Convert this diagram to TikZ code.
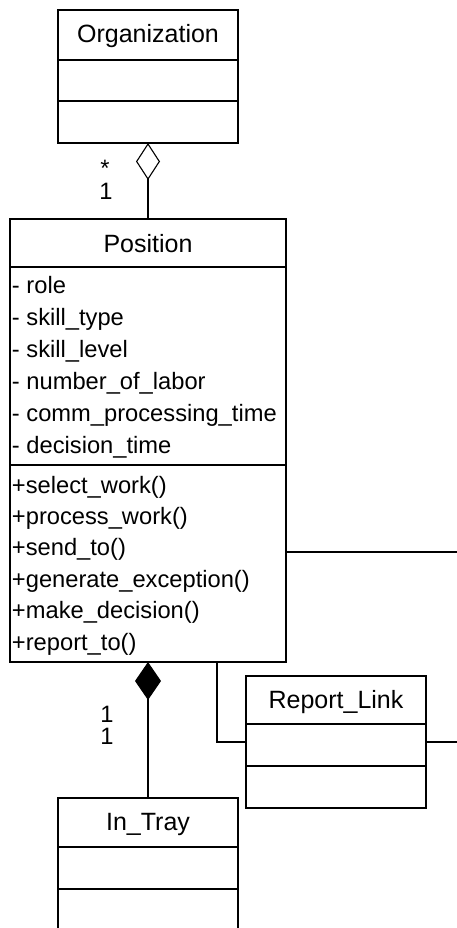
\documentclass[tikz,border=0pt]{standalone}
\usepackage{fontspec}
\setmainfont{Liberation Sans}
\usetikzlibrary{arrows.meta}
\begin{document}
\begin{tikzpicture}[x=1pt,y=-1pt,
  line width=1.2pt,
  every node/.style={inner sep=0pt,outer sep=0pt,font=\fontsize{23.7}{28}\selectfont},
  classbox/.style={draw,rectangle,anchor=north west,line width=1.3pt},
  title/.style={anchor=base,font=\fontsize{25}{29}\selectfont},
  member/.style={anchor=base west},
  mult/.style={anchor=base},
  link/.style={line width=1.1pt}]
\clip (0,0) rectangle (457,928);

% class boxes
\node[classbox,minimum width=180pt,minimum height=133pt] (org) at (58,10) {};
\node[classbox,minimum width=276pt,minimum height=443pt] (pos) at (10,219) {};
\node[classbox,minimum width=180pt,minimum height=132pt] (rl) at (246,676) {};
\node[classbox,minimum width=180pt,minimum height=160pt] (tray) at (58,798) {};

% compartment dividers
\draw[line width=1.3pt] (org.west |- 0,60) -- (org.east |- 0,60);
\draw[line width=1.3pt] (org.west |- 0,101) -- (org.east |- 0,101);
\draw[line width=1.3pt] (pos.west |- 0,267) -- (pos.east |- 0,267);
\draw[line width=1.3pt] (pos.west |- 0,465) -- (pos.east |- 0,465);
\draw[line width=1.3pt] (rl.west |- 0,724) -- (rl.east |- 0,724);
\draw[line width=1.3pt] (rl.west |- 0,766) -- (rl.east |- 0,766);
\draw[line width=1.3pt] (tray.west |- 0,847) -- (tray.east |- 0,847);
\draw[line width=1.3pt] (tray.west |- 0,889) -- (tray.east |- 0,889);

% class names
\node[title] (orgname) at (148,43) {Organization};
\node[title] (posname) at (148,252) {Position};
\node[title] (rlname) at (336,708) {Report\_Link};
\node[title] (trayname) at (148,830) {In\_Tray};

% attributes
\node[member] (a1) at (12,293) {- role};
\node[member] (a2) at (12,325) {- skill\_type};
\node[member] (a3) at (12,357) {- skill\_level};
\node[member] (a4) at (12,389) {- number\_of\_labor};
\node[member] (a5) at (12,421) {- comm\_processing\_time};
\node[member] (a6) at (12,453) {- decision\_time};

% operations
\node[member] (m1) at (12,493) {+select\_work()};
\node[member] (m2) at (12,524.4) {+process\_work()};
\node[member] (m3) at (12,555.8) {+send\_to()};
\node[member] (m4) at (12,587.2) {+generate\_exception()};
\node[member] (m5) at (12,618.6) {+make\_decision()};
\node[member] (m6) at (12,650) {+report\_to()};

% aggregation Organization <>- Position
\draw[link,{Diamond[open,length=37pt,width=24pt]}-] (org.south) -- (pos.north);
\node[mult] (mstar) at (105,177) {*};
\node[mult] (mone) at (106,200) {1};

% composition Position <#>- In_Tray
\draw[link,{Diamond[length=38pt,width=26pt]}-] (pos.south) -- (tray.north);
\node[mult] (c1) at (107,722) {1};
\node[mult] (c2) at (107,744) {1};

% Position to Report_Link
\draw[link] ([xshift=69pt]pos.south) |- (rl.west);

% links leaving to the right
\coordinate (outA) at (457,552);
\coordinate (outB) at (457,742);
\draw[link] (outA -| pos.east) -- (outA);
\draw[link] (rl.east) -- (outB);
\end{tikzpicture}
\end{document}
